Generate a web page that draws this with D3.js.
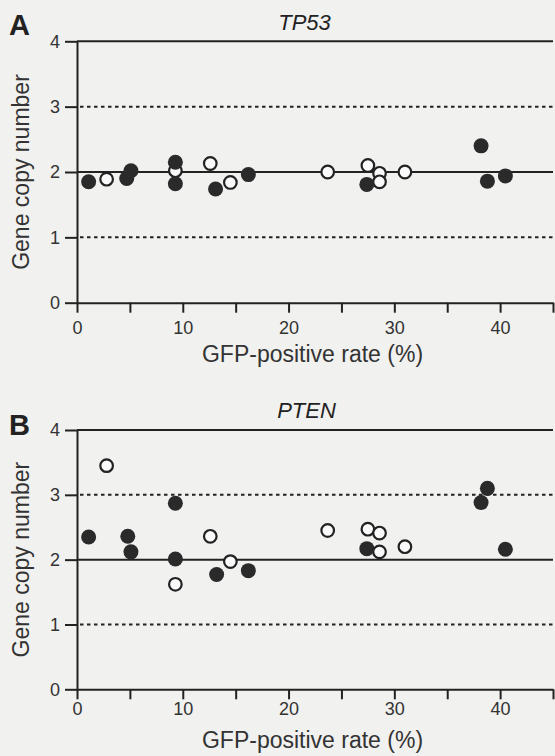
<!DOCTYPE html>
<html>
<head>
<meta charset="utf-8">
<script src="https://cdn.jsdelivr.net/npm/d3@7"></script>
<style>
  html, body { margin: 0; padding: 0; background: #f1f1ef; }
  svg { display: block; font-family: "Liberation Sans", Arial, sans-serif; }
</style>
</head>
<body>
<div id="chart"></div>
<script>
const width = 555;
const height = 756;

// Panel A: TP53
const tp53FilledX = [1.1, 4.7, 5.1, 9.3, 9.3, 13.1, 16.2, 27.4, 38.2, 38.8, 40.5];
const tp53FilledY = [1.85, 1.90, 2.02, 2.15, 1.82, 1.74, 1.96, 1.81, 2.40, 1.86, 1.94];
const tp53OpenX = [2.8, 9.3, 12.6, 14.5, 23.7, 27.5, 28.6, 28.6, 31.0];
const tp53OpenY = [1.89, 2.02, 2.13, 1.84, 2.00, 2.10, 1.98, 1.85, 2.00];

// Panel B: PTEN
const ptenFilledX = [1.1, 4.8, 5.1, 9.3, 9.3, 13.2, 16.2, 27.4, 38.2, 38.8, 40.5];
const ptenFilledY = [2.35, 2.36, 2.12, 2.87, 2.01, 1.77, 1.83, 2.17, 2.88, 3.10, 2.16];
const ptenOpenX = [2.8, 9.3, 12.6, 14.5, 23.7, 27.5, 28.6, 28.6, 31.0];
const ptenOpenY = [3.45, 1.62, 2.36, 1.97, 2.45, 2.47, 2.41, 2.12, 2.20];

const xTicks = [0, 5, 10, 15, 20, 25, 30, 35, 40, 45];
const yTicks = [0, 1, 2, 3, 4];
const solidLevels = [2, 4];
const dottedLevels = [1, 3];

const ink = "#222";
const svg = d3.select("#chart").append("svg").attr("width", width).attr("height", height);

const x = d3.scaleLinear().domain([0, 45]).range([77, 553]);

drawPanel({
  letter: "A", gene: "TP53", top: 41.3, bottom: 302.7,
  filledX: tp53FilledX, filledY: tp53FilledY, openX: tp53OpenX, openY: tp53OpenY,
  letterY: 35, geneX: 304.5, geneY: 30, labelGap: 9, titleY: 362
});
drawPanel({
  letter: "B", gene: "PTEN", top: 430, bottom: 689.3,
  filledX: ptenFilledX, filledY: ptenFilledY, openX: ptenOpenX, openY: ptenOpenY,
  letterY: 435, geneX: 306.5, geneY: 418, labelGap: 3, titleY: 748
});

function drawPanel(p) {
  const y = d3.scaleLinear().domain([0, 4]).range([p.bottom, p.top]);
  const g = svg.append("g");

  // reference lines
  g.selectAll(".solid").data(solidLevels).join("line")
    .attr("x1", x(0)).attr("x2", x(45)).attr("y1", d => y(d)).attr("y2", d => y(d))
    .attr("stroke", ink).attr("stroke-width", 2);
  g.selectAll(".dotted").data(dottedLevels).join("line")
    .attr("x1", x(0) + 3).attr("x2", x(45)).attr("y1", d => y(d)).attr("y2", d => y(d))
    .attr("stroke", ink).attr("stroke-width", 2).attr("stroke-dasharray", "3.5,3.5");

  // axes
  const xAxis = g.append("g").attr("transform", `translate(0,${p.bottom})`)
    .call(d3.axisBottom(x).tickValues(xTicks).tickSize(10).tickSizeOuter(0)
      .tickPadding(p.labelGap).tickFormat(d => d % 10 === 0 ? d : ""));
  const yAxis = g.append("g").attr("transform", `translate(${x(0)},0)`)
    .call(d3.axisLeft(y).tickValues(yTicks).tickSize(12).tickSizeOuter(0).tickPadding(5)
      .tickFormat(d3.format("d")));
  [xAxis, yAxis].forEach(a => {
    a.select(".domain").attr("stroke", ink).attr("stroke-width", 2);
    a.selectAll(".tick line").attr("stroke", ink).attr("stroke-width", 2);
    a.selectAll(".tick text").attr("fill", "#333").attr("font-size", 18)
      .attr("font-family", "'Liberation Sans', Arial, sans-serif");
  });

  // open circles first, filled on top
  g.selectAll(".open").data(d3.range(p.openX.length)).join("circle")
    .attr("cx", i => x(p.openX[i])).attr("cy", i => y(p.openY[i])).attr("r", 6.3)
    .attr("fill", "#fafafa").attr("stroke", ink).attr("stroke-width", 2.2);
  g.selectAll(".filled").data(d3.range(p.filledX.length)).join("circle")
    .attr("cx", i => x(p.filledX[i])).attr("cy", i => y(p.filledY[i])).attr("r", 7.5)
    .attr("fill", "#2a2a2a");

  // labels
  g.append("text").attr("x", 9).attr("y", p.letterY).text(p.letter)
    .attr("font-size", 29).attr("font-weight", "bold").attr("fill", ink);
  g.append("text").attr("x", p.geneX).attr("y", p.geneY).text(p.gene)
    .attr("text-anchor", "middle").attr("font-size", 22).attr("font-style", "italic").attr("fill", ink);
  g.append("text").attr("transform", `translate(29,${(p.top + p.bottom) / 2}) rotate(-90)`)
    .attr("text-anchor", "middle").attr("font-size", 23).attr("fill", "#333").text("Gene copy number");
  g.append("text").attr("x", 312.5).attr("y", p.titleY).attr("text-anchor", "middle")
    .attr("font-size", 23).attr("fill", "#333").text("GFP-positive rate (%)");
}
</script>
</body>
</html>
